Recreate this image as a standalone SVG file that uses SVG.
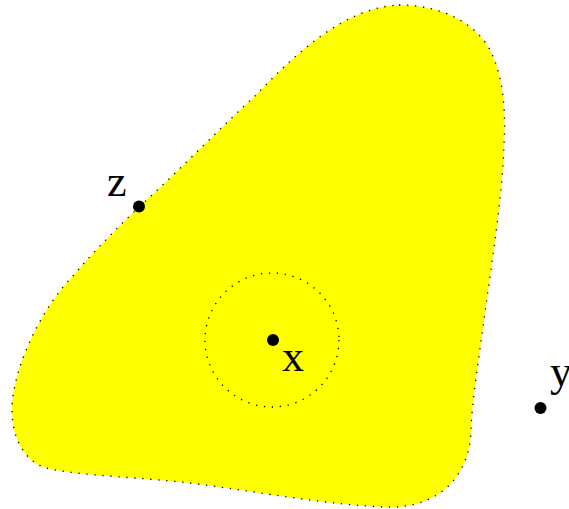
<svg xmlns="http://www.w3.org/2000/svg" width="569" height="509" viewBox="0 0 569 509">
<style>
.dotted{fill:none;stroke:#000;stroke-width:1.3;stroke-dasharray:1.3 6.7}
.pt{fill:#000}
.lbl{font-family:"Liberation Serif","DejaVu Serif",serif;font-size:44px;fill:#000}
</style>
<rect width="569" height="509" fill="#fff"/>
<g id="region">
<path d="M 399,5 C 440,5 475,22 490,50 C 503,75 506,110 504,145 C 502,200 492,260 484,320 C 478,365 472,400 471,430 C 470,475 440,507 391,507 C 330,506 250,490 181,482 C 120,476 70,475 43,467 C 15,455 8,420 14,390 C 21,352 45,305 72,277 C 95,250 118,227 139,207 C 180,170 220,128 254,97 C 290,60 340,8 399,5 Z" fill="#ffff00"/>
<path class="dotted" d="M 399,5 C 440,5 475,22 490,50 C 503,75 506,110 504,145 C 502,200 492,260 484,320 C 478,365 472,400 471,430 C 470,475 440,507 391,507 C 330,506 250,490 181,482 C 120,476 70,475 43,467 C 15,455 8,420 14,390 C 21,352 45,305 72,277 C 95,250 118,227 139,207 C 180,170 220,128 254,97 C 290,60 340,8 399,5 Z"/>
</g>
<g id="ball">
<circle class="dotted" cx="272" cy="340" r="67"/>
</g>
<g id="x">
<circle class="pt" cx="273" cy="340" r="6"/>
<text class="lbl" x="282" y="371">x</text>
</g>
<g id="z">
<circle class="pt" cx="139" cy="206.5" r="6"/>
<text class="lbl" x="107" y="196">z</text>
</g>
<g id="y">
<circle class="pt" cx="540.5" cy="408" r="6"/>
<text class="lbl" x="550" y="386">y</text>
</g>
<g id="connectors"/>
</svg>
